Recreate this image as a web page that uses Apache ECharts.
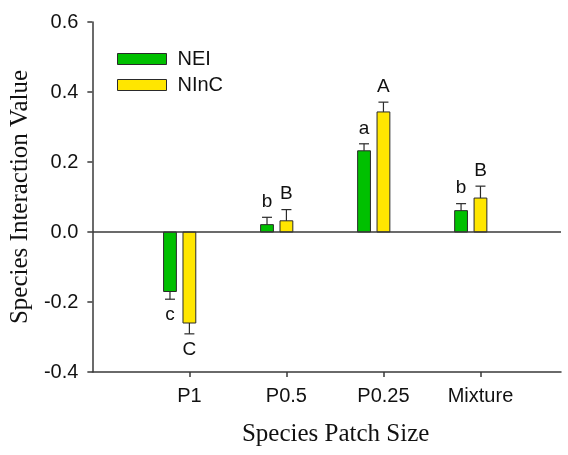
<!DOCTYPE html>
<html>
<head>
<meta charset="utf-8">
<script src="https://cdn.jsdelivr.net/npm/echarts@6/dist/echarts.min.js"></script>
<style>
  html, body { margin: 0; padding: 0; background: #fff; }
  #chart { width: 568px; height: 455px; }
</style>
</head>
<body>
<div id="chart"></div>
<script>
const categories = ['P1', 'P0.5', 'P0.25', 'Mixture'];
const neiValues = [-0.17, 0.021, 0.232, 0.061];
const neiErrors = [0.022, 0.021, 0.02, 0.02];
const nincValues = [-0.26, 0.032, 0.343, 0.097];
const nincErrors = [0.031, 0.032, 0.028, 0.034];
const neiLetters = ['c', 'b', 'a', 'b'];
const nincLetters = ['C', 'B', 'A', 'B'];
const yTicks = [-0.4, -0.2, 0.0, 0.2, 0.4, 0.6];

const GREEN = '#00c000';
const YELLOW = '#ffe600';
const EDGE = '#2a2a2a';
const AXIS = '#3a3a3a';

// bar half width in x units, cap half width in px
const halfW = 0.066;
const capHalf = 5;

function makeRender(fill, letters) {
  return function (params, api) {
    const x = api.value(0);
    const v = api.value(1);
    const e = api.value(2);
    const up = v >= 0;
    const p0 = api.coord([x - halfW, 0]);
    const p1 = api.coord([x + halfW, v]);
    const top = api.coord([x, v]);
    const end = api.coord([x, up ? v + e : v - e]);
    return {
      type: 'group',
      children: [
        {
          type: 'rect',
          shape: {
            x: Math.min(p0[0], p1[0]),
            y: Math.min(p0[1], p1[1]),
            width: Math.abs(p1[0] - p0[0]),
            height: Math.abs(p1[1] - p0[1])
          },
          style: { fill: fill, stroke: EDGE, lineWidth: 1 }
        },
        {
          type: 'line',
          shape: { x1: top[0], y1: top[1], x2: end[0], y2: end[1] },
          style: { stroke: EDGE, lineWidth: 1.2 }
        },
        {
          type: 'line',
          shape: { x1: end[0] - capHalf, y1: end[1], x2: end[0] + capHalf, y2: end[1] },
          style: { stroke: EDGE, lineWidth: 1.2 }
        },
        {
          type: 'text',
          style: {
            text: letters[params.dataIndex],
            x: end[0],
            y: up ? end[1] - 6 : end[1] + 6,
            align: 'center',
            verticalAlign: up ? 'bottom' : 'top',
            fontSize: 19,
            fontFamily: 'Liberation Sans',
            fill: '#111'
          }
        }
      ]
    };
  };
}

const chart = echarts.init(document.getElementById('chart'));

chart.setOption({
  animation: false,
  grid: { left: 91, top: 22, right: 7, bottom: 83 },
  legend: {
    orient: 'vertical',
    left: 112,
    top: 44,
    itemWidth: 49,
    itemHeight: 11,
    itemGap: 6,
    textStyle: { fontSize: 20, fontFamily: 'Liberation Sans', color: '#111', padding: [0, 0, 0, 6] },
    data: [
      { name: 'NEI', icon: 'rect', itemStyle: { color: GREEN, borderColor: EDGE, borderWidth: 1 } },
      { name: 'NInC', icon: 'rect', itemStyle: { color: YELLOW, borderColor: EDGE, borderWidth: 1 } }
    ]
  },
  xAxis: {
    type: 'value',
    min: 0,
    max: 4.83,
    splitLine: { show: false },
    axisLine: { show: true, onZero: false, lineStyle: { color: AXIS, width: 1.5 } },
    axisTick: { show: true, length: 5, customValues: [1, 2, 3, 4], lineStyle: { color: AXIS, width: 1.5 } },
    axisLabel: {
      customValues: [1, 2, 3, 4],
      formatter: v => categories[Math.round(v) - 1] || '',
      fontSize: 20,
      fontFamily: 'Liberation Sans',
      color: '#111',
      margin: 14
    },
    name: 'Species Patch Size',
    nameLocation: 'middle',
    nameGap: 50,
    nameTextStyle: { fontSize: 25, fontFamily: 'Liberation Serif', color: '#111', padding: [0, 0, 0, 18] }
  },
  yAxis: {
    type: 'value',
    min: -0.4,
    max: 0.6,
    interval: 0.2,
    splitLine: { show: false },
    axisLine: { show: true, lineStyle: { color: AXIS, width: 1.5 } },
    axisTick: { show: true, length: 5, customValues: yTicks, lineStyle: { color: AXIS, width: 1.5 } },
    axisLabel: {
      customValues: yTicks,
      formatter: v => v.toFixed(1),
      fontSize: 20,
      fontFamily: 'Liberation Sans',
      color: '#111',
      margin: 14
    },
    name: 'Species Interaction Value',
    nameLocation: 'middle',
    nameGap: 54,
    nameTextStyle: { fontSize: 25, fontFamily: 'Liberation Serif', color: '#111' }
  },
  series: [
    {
      name: 'NEI',
      type: 'custom',
      itemStyle: { color: GREEN },
      encode: { x: 0, y: 1 },
      data: neiValues.map((v, i) => [i + 1 - 0.2, v, neiErrors[i]]),
      renderItem: makeRender(GREEN, neiLetters),
      markLine: {
        silent: true,
        symbol: 'none',
        label: { show: false },
        lineStyle: { color: AXIS, width: 1.5, type: 'solid' },
        data: [{ yAxis: 0 }]
      }
    },
    {
      name: 'NInC',
      type: 'custom',
      itemStyle: { color: YELLOW },
      encode: { x: 0, y: 1 },
      data: nincValues.map((v, i) => [i + 1, v, nincErrors[i]]),
      renderItem: makeRender(YELLOW, nincLetters)
    }
  ]
});
</script>
</body>
</html>
